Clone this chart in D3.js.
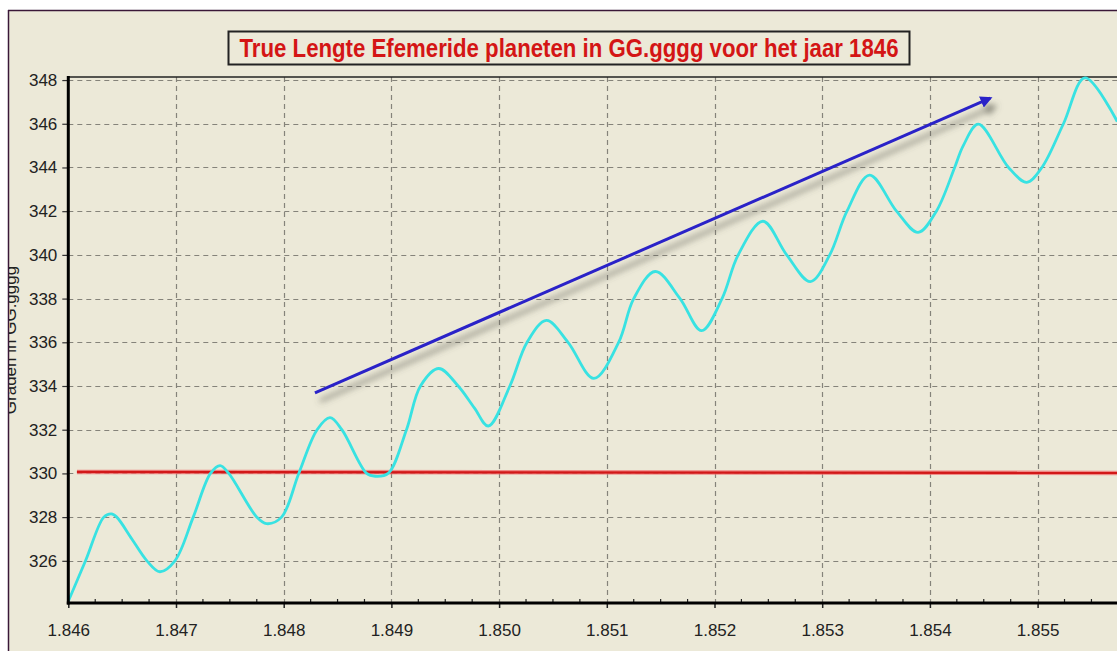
<!DOCTYPE html>
<html>
<head>
<meta charset="utf-8">
<script src="https://cdn.jsdelivr.net/npm/d3@7"></script>
<style>
  html, body { margin: 0; padding: 0; background: #ffffff; }
  svg { display: block; }
</style>
</head>
<body>
<script>
// ---- data ----
const chartTitle = "True Lengte Efemeride planeten in GG.gggg voor het jaar 1846";
const yAxisTitle = "Graden in GG.gggg";

const years = [
  1.84600, 1.84616, 1.84633, 1.84640, 1.84645, 1.84659, 1.84673, 1.84685,
  1.84699, 1.84716, 1.84732, 1.84741, 1.84749, 1.84775, 1.84784,
  1.84798, 1.84814, 1.84831, 1.84843, 1.84854, 1.84877, 1.84885,
  1.84897, 1.84914, 1.84927, 1.84944, 1.84962, 1.84977, 1.84990,
  1.85010, 1.85026, 1.85044, 1.85064, 1.85088,
  1.85111, 1.85125, 1.85145, 1.85168, 1.85188,
  1.85207, 1.85222, 1.85245, 1.85267, 1.85289,
  1.85307, 1.85323, 1.85344, 1.85369, 1.85389,
  1.85406, 1.85423, 1.85431, 1.85445, 1.85473, 1.85490,
  1.85504, 1.85524, 1.85544, 1.85574
];
const lengths = [
  324.15, 326.0, 328.0, 328.15, 328.0, 327.0, 326.0, 325.5,
  326.0, 328.0, 330.0, 330.36, 330.0, 328.0, 327.7,
  328.0, 330.0, 332.0, 332.55, 332.0, 330.0, 329.87,
  330.0, 332.0, 334.0, 334.8, 334.0, 333.0, 332.17,
  334.0, 336.0, 337.0, 336.0, 334.35,
  336.0, 338.0, 339.24, 338.0, 336.53,
  338.0, 340.0, 341.54, 340.0, 338.78,
  340.0, 342.0, 343.65, 342.0, 341.03,
  342.0, 344.0, 345.0, 345.98, 344.0, 343.32,
  344.0, 346.0, 348.1, 346.1
];

const refYears = [1.84608, 1.85574];
const refValues = [330.07, 330.02];

const arrowYears = [1.84829, 1.85456];
const arrowValues = [333.69, 347.17];

const xTickValues = [1.846, 1.847, 1.848, 1.849, 1.850, 1.851, 1.852, 1.853, 1.854, 1.855];
const yTickValues = [326, 328, 330, 332, 334, 336, 338, 340, 342, 344, 346, 348];

// ---- layout ----
const W = 1117, H = 651;
const plotL = 68.3, plotT = 77, plotB = 603;
const pxPerThousandth = 107.7;

const svg = d3.select("body").append("svg").attr("width", W).attr("height", H);

const defs = svg.append("defs");
defs.append("clipPath").attr("id", "frameClip")
  .append("rect").attr("x", 9).attr("y", 11).attr("width", W - 9).attr("height", H - 11);
defs.append("clipPath").attr("id", "plotClip")
  .append("rect").attr("x", plotL).attr("y", plotT - 2).attr("width", W - plotL).attr("height", plotB - plotT + 2);

const shadow = defs.append("filter").attr("id", "shadow")
  .attr("x", "-20%").attr("y", "-50%").attr("width", "140%").attr("height", "200%");
shadow.append("feDropShadow").attr("dx", 5).attr("dy", 8).attr("stdDeviation", 3)
  .attr("flood-color", "#5a5a50").attr("flood-opacity", 0.7);

defs.append("marker").attr("id", "arrowHead")
  .attr("viewBox", "0 0 10 10").attr("refX", 8).attr("refY", 5)
  .attr("markerWidth", 4).attr("markerHeight", 4).attr("orient", "auto")
  .attr("markerUnits", "strokeWidth")
  .append("path").attr("d", "M0,0 L10,5 L0,10 Z").attr("fill", "#2a22c8");

// background + outer frame
svg.append("rect").attr("x", 0).attr("y", 0).attr("width", W).attr("height", H).attr("fill", "#ffffff");
svg.append("rect").attr("x", 8).attr("y", 10).attr("width", W - 8).attr("height", H - 10).attr("fill", "#ECE9D8");
svg.append("line").attr("x1", 8).attr("x2", W).attr("y1", 10.5).attr("y2", 10.5)
  .attr("stroke", "#3a1838").attr("stroke-width", 1.5);
svg.append("line").attr("x1", 8.5).attr("x2", 8.5).attr("y1", 10).attr("y2", H)
  .attr("stroke", "#3a1838").attr("stroke-width", 1.5);

// scales
const x = d3.scaleLinear().domain([1.846, 1.856]).range([plotL, plotL + pxPerThousandth * 10]);
const y = d3.scaleLinear().domain([324.07, 348.14]).range([plotB, plotT]);

// grid
const grid = svg.append("g").attr("clip-path", "url(#frameClip)");
grid.selectAll("line.hg").data(yTickValues).join("line").attr("class", "hg")
  .attr("x1", plotL).attr("x2", W).attr("y1", d => Math.round(y(d)) + 0.5).attr("y2", d => Math.round(y(d)) + 0.5)
  .attr("stroke", "#85837a").attr("stroke-width", 1.2).attr("stroke-dasharray", "5,4");
grid.selectAll("line.vg").data(xTickValues.slice(1)).join("line").attr("class", "vg")
  .attr("x1", d => Math.round(x(d)) + 0.5).attr("x2", d => Math.round(x(d)) + 0.5)
  .attr("y1", plotT).attr("y2", plotB)
  .attr("stroke", "#85837a").attr("stroke-width", 1.2).attr("stroke-dasharray", "5,4");

// top plot border
svg.append("line").attr("x1", plotL).attr("x2", W).attr("y1", plotT).attr("y2", plotT)
  .attr("stroke", "#222").attr("stroke-width", 1.5);

// reference red line
const refData = refYears.map((d, i) => [d, refValues[i]]);
svg.append("path").datum(refData)
  .attr("d", d3.line().x(d => x(d[0])).y(d => y(d[1])))
  .attr("fill", "none").attr("stroke", "#f07070").attr("stroke-width", 4.5).attr("opacity", 0.8);
svg.append("path").datum(refData)
  .attr("d", d3.line().x(d => x(d[0])).y(d => y(d[1])))
  .attr("fill", "none").attr("stroke", "#d21818").attr("stroke-width", 2.2);

// main curve
const series = years.map((d, i) => [d, lengths[i]]);
svg.append("g").attr("clip-path", "url(#plotClip)")
  .append("path").datum(series)
  .attr("d", d3.line().x(d => x(d[0])).y(d => y(d[1])).curve(d3.curveCatmullRom.alpha(0.5)))
  .attr("fill", "none").attr("stroke", "#38e2e2").attr("stroke-width", 2.8)
  .attr("stroke-linejoin", "round");

// trend arrow with shadow
svg.append("line")
  .attr("x1", x(arrowYears[0])).attr("y1", y(arrowValues[0]))
  .attr("x2", x(arrowYears[1])).attr("y2", y(arrowValues[1]))
  .attr("stroke", "#2a22c8").attr("stroke-width", 3)
  .attr("marker-end", "url(#arrowHead)")
  .attr("filter", "url(#shadow)");

// axes
const fontFam = "'Liberation Sans', Arial, sans-serif";
const yAxis = svg.append("g").attr("transform", `translate(${plotL},0)`)
  .call(d3.axisLeft(y).tickValues(yTickValues).tickSize(6).tickPadding(5).tickFormat(d3.format("d")));
yAxis.select(".domain").remove();
yAxis.selectAll(".tick line").attr("stroke", "#333").attr("stroke-width", 1.2);
yAxis.selectAll("text").attr("font-family", fontFam).attr("font-size", 17).attr("fill", "#222");

const xAxis = svg.append("g").attr("transform", `translate(0,${plotB})`)
  .call(d3.axisBottom(x).tickValues(xTickValues).tickSize(5).tickPadding(16).tickFormat(d3.format(".3f")));
xAxis.select(".domain").remove();
xAxis.selectAll(".tick line").attr("stroke", "#222").attr("stroke-width", 1.5);
xAxis.selectAll("text").attr("font-family", fontFam).attr("font-size", 17).attr("fill", "#222");

// minor x ticks (upward)
const minorX = d3.range(0, 40).map(i => 1.846 + i * 0.00025).filter((d, i) => i % 4 !== 0);
svg.append("g").selectAll("line").data(minorX).join("line")
  .attr("x1", d => x(d)).attr("x2", d => x(d)).attr("y1", plotB - 4).attr("y2", plotB)
  .attr("stroke", "#222").attr("stroke-width", 1.2);

// thick axis lines
svg.append("line").attr("x1", plotL).attr("x2", plotL).attr("y1", plotT - 1).attr("y2", plotB + 1.5)
  .attr("stroke", "#000").attr("stroke-width", 3);
svg.append("line").attr("x1", plotL - 1.5).attr("x2", W).attr("y1", plotB).attr("y2", plotB)
  .attr("stroke", "#000").attr("stroke-width", 3);

// y axis title (clipped by frame as in the reference)
svg.append("g").attr("clip-path", "url(#frameClip)")
  .append("text")
  .attr("transform", "translate(16,340) rotate(-90)")
  .attr("text-anchor", "middle")
  .attr("font-family", fontFam).attr("font-size", 17).attr("fill", "#222")
  .text(yAxisTitle);

// title box
const tb = svg.append("g");
tb.append("rect").attr("x", 228.5).attr("y", 31.5).attr("width", 681).attr("height", 33)
  .attr("fill", "#ECE9D8").attr("stroke", "#222").attr("stroke-width", 2);
tb.append("text").attr("x", 569).attr("y", 57).attr("text-anchor", "middle")
  .attr("font-family", "'Liberation Sans Narrow', 'Arial Narrow', 'Liberation Sans', sans-serif")
  .attr("font-weight", "bold").attr("font-size", 25).attr("fill", "#d41515")
  .attr("textLength", 659).attr("lengthAdjust", "spacingAndGlyphs")
  .text(chartTitle);
</script>
</body>
</html>
